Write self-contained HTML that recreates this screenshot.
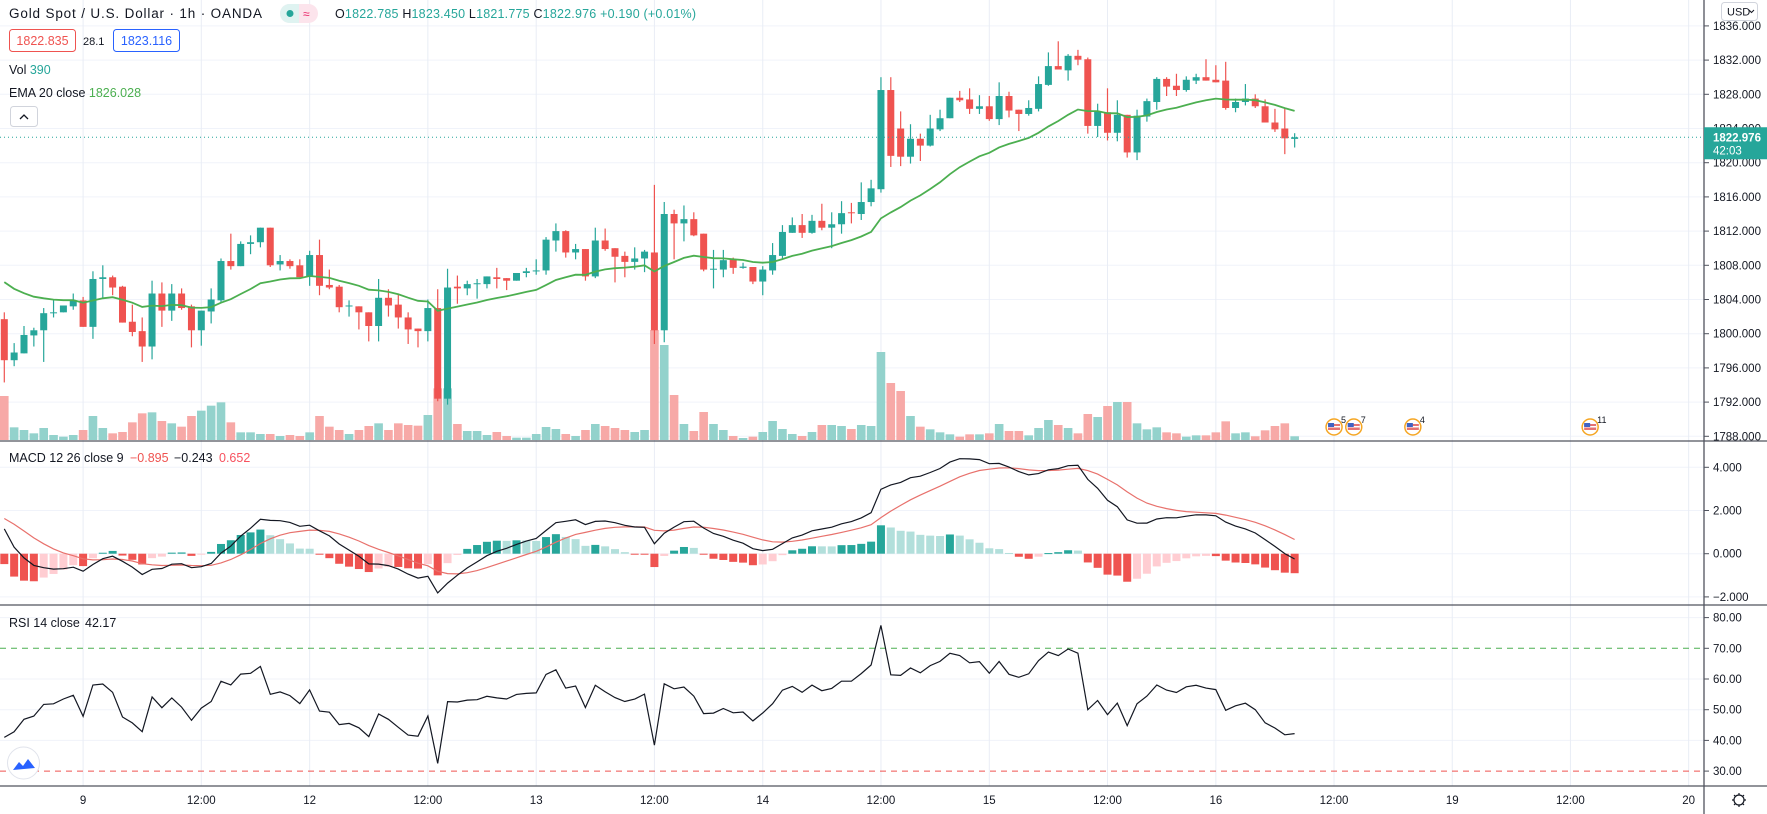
<!DOCTYPE html>
<html><head><meta charset="utf-8"><style>
html,body{margin:0;padding:0;background:#fff;}
svg{display:block;font-family:"Liberation Sans",sans-serif;}
</style></head><body>
<svg id="chart" width="1767" height="814" viewBox="0 0 1767 814" xmlns="http://www.w3.org/2000/svg">
<defs>
<clipPath id="mainClip"><rect x="0" y="0" width="1704" height="441"/></clipPath>
<clipPath id="macdClip"><rect x="0" y="442" width="1704" height="163"/></clipPath>
<clipPath id="rsiClip"><rect x="0" y="606" width="1704" height="180"/></clipPath>
</defs>
<rect x="0" y="0" width="1767" height="814" fill="#fff"/>
<g id="grid"></g>
<g id="vols" clip-path="url(#mainClip)"></g>
<g id="candles" clip-path="url(#mainClip)"></g>
<g id="emaG" clip-path="url(#mainClip)"></g>
<g id="macdG" clip-path="url(#macdClip)"></g>
<g id="rsiG" clip-path="url(#rsiClip)"></g>
<g id="axes"></g>

<!-- header -->
<g font-size="13.5" fill="#131722">
<text x="9" y="18" textLength="253">Gold Spot / U.S. Dollar · 1h · OANDA</text>
<g>
<rect x="280" y="4" width="38" height="19" rx="9.5" fill="#fce4ec"/>
<path d="M289.5 4 h9.5 v19 h-9.5 a9.5 9.5 0 0 1 0 -19 z" fill="#dff3f1"/>
<circle cx="290" cy="13.5" r="3.5" fill="#26a69a"/>
<text x="303" y="18" font-size="12" fill="#e91e63">≈</text>
</g>
<text x="335" y="18" font-size="12.5" textLength="361" fill="#131722">O<tspan fill="#26a69a">1822.785</tspan> H<tspan fill="#26a69a">1823.450</tspan> L<tspan fill="#26a69a">1821.775</tspan> C<tspan fill="#26a69a">1822.976 +0.190 (+0.01%)</tspan></text>
<g>
<rect x="9.5" y="29.5" width="66" height="22" rx="3" fill="#fff" stroke="#ef5350"/>
<text x="42.5" y="45" font-size="12.5" fill="#ef5350" text-anchor="middle">1822.835</text>
</g>
<text x="83" y="45" font-size="11" fill="#131722">28.1</text>
<g>
<rect x="113.5" y="29.5" width="66" height="22" rx="3" fill="#fff" stroke="#2962ff"/>
<text x="146.5" y="45" font-size="12.5" fill="#2962ff" text-anchor="middle">1823.116</text>
</g>
<text x="9" y="74" font-size="12.5">Vol <tspan fill="#26a69a">390</tspan></text>
<text x="9" y="97" font-size="12.5">EMA 20 close <tspan fill="#4caf50">1826.028</tspan></text>
<g>
<rect x="10.5" y="106.5" width="27" height="20" rx="3" fill="#fff" stroke="#d1d4dc"/>
<path d="M20 119 l4 -4 l4 4" fill="none" stroke="#131722" stroke-width="1.3"/>
</g>
</g>
<g>
<rect x="1721.5" y="2.5" width="36" height="18" rx="3" fill="#fff" stroke="#d1d4dc"/>
<text x="1727" y="15.5" font-size="11" fill="#131722">USD</text>
<path d="M1749 10 l2.5 2.5 l2.5 -2.5" fill="none" stroke="#131722"/>
</g>
<text x="9" y="462" font-size="12.5" fill="#131722">MACD 12 26 close 9 <tspan x="130" fill="#ef5350">−0.895</tspan><tspan x="174" fill="#131722">−0.243</tspan><tspan x="219" fill="#f7525f">0.652</tspan></text>
<text x="9" y="627" font-size="12.5" fill="#131722">RSI 14 close <tspan x="85">42.17</tspan></text>
<g>
<circle cx="23.5" cy="763" r="16" fill="#fff" stroke="#e0e3eb"/>
<path d="M13 770 l6 -8 l4 4 l5 -7 l7 9 z" fill="#2962ff"/>
</g>
<g fill="none" stroke="#131722" stroke-width="1.2">
<circle cx="1739" cy="800" r="5"/>
<path d="M1739 793 v2 M1739 805 v2 M1732 800 h2 M1744 800 h2 M1734 795 l1.5 1.5 M1742.5 803.5 l1.5 1.5 M1744 795 l-1.5 1.5 M1735.5 803.5 l-1.5 1.5"/>
</g>
<g id="events"></g>

<script>
const opens=[1801.7,1796.9,1797.7,1799.8,1800.4,1802.4,1802.5,1803.2,1803.9,1800.8,
1806.4,1806.6,1805.5,1801.4,1800.3,1798.5,1804.7,1802.7,1804.7,1803.2,
1800.4,1802.6,1803.9,1808.5,1807.9,1810.5,1810.7,1812.4,1808.1,1808.5,
1808.0,1806.7,1809.2,1805.7,1805.5,1803.2,1803.2,1802.5,1800.9,1804.2,
1803.4,1801.9,1800.6,1800.3,1803.0,1792.4,1805.5,1805.3,1805.8,1805.8,
1806.6,1806.5,1806.2,1807.1,1807.3,1807.4,1810.9,1812.0,1809.5,1809.9,
1806.7,1810.9,1810.0,1809.1,1808.4,1808.8,1809.5,1800.4,1814.0,1812.9,
1813.4,1811.7,1807.5,1807.5,1808.7,1807.7,1807.8,1806.1,1807.4,1809.1,
1811.8,1812.7,1811.8,1813.2,1812.4,1812.8,1814.2,1814.0,1815.4,1816.9,
1828.5,1824.0,1820.7,1822.8,1822.0,1823.9,1825.2,1827.6,1827.4,1826.3,
1826.6,1825.1,1827.8,1826.2,1825.7,1826.3,1829.1,1831.3,1830.8,1832.5,
1832.1,1824.3,1825.9,1823.5,1825.6,1821.2,1825.4,1827.1,1829.8,1829.0,
1828.5,1829.6,1830.0,1829.7,1829.6,1826.4,1827.1,1827.5,1826.6,1824.7,
1824.0,1822.785];
const highs=[1802.5,1798.9,1800.9,1800.7,1803.0,1803.9,1803.3,1804.7,1804.3,1807.3,
1808.0,1806.8,1805.6,1803.4,1801.9,1806.2,1806.0,1805.8,1805.3,1803.4,
1802.7,1805.3,1808.8,1811.7,1810.8,1811.5,1812.4,1812.4,1809.2,1808.7,
1808.7,1809.7,1811.0,1807.5,1805.7,1803.9,1803.2,1802.5,1806.4,1805.2,
1804.6,1802.5,1800.6,1804.0,1805.2,1807.6,1806.8,1806.2,1806.4,1806.7,
1807.7,1806.5,1807.1,1807.7,1808.7,1811.3,1812.9,1812.1,1810.5,1809.9,
1812.4,1812.3,1810.0,1809.6,1810.1,1809.8,1817.4,1815.4,1814.5,1815.0,
1814.2,1811.7,1809.8,1809.8,1808.9,1808.3,1807.8,1807.9,1810.6,1812.7,
1813.6,1814.0,1813.9,1815.2,1814.2,1815.5,1815.3,1817.7,1818.0,1830.0,
1830.0,1826.0,1824.5,1823.4,1825.6,1826.2,1827.6,1828.4,1828.7,1827.9,
1827.8,1829.4,1828.3,1826.2,1827.3,1830.1,1832.9,1834.2,1832.7,1833.2,
1832.3,1826.9,1828.7,1827.3,1825.6,1826.2,1827.5,1830.0,1830.0,1830.4,
1830.1,1830.4,1832.1,1831.4,1831.8,1827.5,1829.2,1828.0,1827.4,1826.3,
1826.4,1823.45];
const lows=[1794.3,1796.2,1797.7,1798.5,1796.7,1801.9,1802.5,1802.8,1800.8,1799.4,
1804.1,1804.5,1801.3,1799.7,1796.7,1797.0,1800.8,1801.5,1802.8,1798.4,
1798.6,1801.2,1803.6,1807.5,1807.9,1809.3,1810.1,1807.8,1807.4,1807.6,
1806.6,1805.6,1804.5,1805.2,1802.5,1802.0,1800.5,1799.1,1799.1,1802.0,
1800.6,1798.8,1798.4,1799.1,1792.1,1791.7,1803.5,1804.5,1804.1,1805.3,
1805.3,1805.1,1806.2,1806.6,1806.9,1806.9,1809.6,1808.9,1808.7,1806.2,
1806.5,1809.7,1806.0,1806.6,1807.5,1807.2,1798.8,1799.0,1808.7,1810.8,
1811.4,1807.3,1805.3,1806.6,1807.0,1807.6,1805.8,1804.5,1806.9,1808.8,
1811.8,1811.2,1811.7,1812.1,1810.0,1811.7,1812.9,1813.3,1814.9,1816.5,
1819.5,1819.6,1819.9,1820.2,1821.9,1823.7,1825.2,1827.1,1825.7,1825.7,
1824.9,1824.4,1825.3,1823.7,1825.5,1826.0,1829.0,1830.9,1829.6,1831.4,
1823.4,1823.0,1822.6,1822.5,1820.6,1820.3,1824.8,1826.2,1827.8,1827.8,
1828.3,1829.2,1829.6,1829.4,1826.2,1825.9,1826.7,1826.4,1824.7,1823.6,
1821.0,1821.775];
const closes=[1796.9,1797.8,1799.85,1800.4,1802.4,1802.5,1803.3,1803.9,1800.8,1806.4,
1806.6,1805.4,1801.3,1800.2,1798.5,1804.7,1802.7,1804.7,1803.0,1800.4,
1802.7,1804.0,1808.5,1807.9,1810.5,1810.7,1812.4,1808.0,1808.5,1807.9,
1806.6,1809.2,1805.6,1805.4,1803.1,1803.3,1802.5,1800.9,1804.2,1803.3,
1801.9,1800.5,1800.3,1803.0,1792.4,1805.4,1805.3,1805.8,1805.9,1806.7,
1806.4,1806.2,1807.1,1807.3,1807.4,1811.0,1812.0,1809.5,1809.9,1806.7,
1810.9,1809.9,1809.0,1808.4,1808.8,1809.6,1800.4,1814.0,1812.9,1813.4,
1811.5,1807.5,1807.6,1808.6,1807.7,1807.85,1806.1,1807.5,1809.2,1811.9,
1812.7,1811.8,1813.2,1812.4,1812.8,1814.1,1814.1,1815.4,1817.0,1828.5,
1820.8,1820.7,1822.8,1822.0,1824.0,1825.2,1827.6,1827.3,1826.3,1826.6,
1825.1,1827.8,1826.1,1825.7,1826.4,1829.2,1831.3,1830.9,1832.5,1832.05,
1824.3,1826.0,1823.5,1825.6,1821.2,1825.5,1827.2,1829.8,1828.9,1828.5,
1829.7,1830.0,1829.6,1829.4,1826.4,1827.1,1827.5,1826.6,1824.7,1823.9,
1822.85,1822.976];
const volumes=[4620,1330,1050,700,1260,525,350,525,1050,2520,
1260,700,840,1855,2800,2905,1995,1750,1400,2520,
3080,3605,3955,1855,805,805,630,630,420,525,
420,805,2520,1400,1050,630,1050,1470,1750,1050,
1750,1575,1505,2625,5425,5425,1680,945,945,525,
840,420,245,245,630,1365,1155,630,420,1050,
1680,1470,1260,1050,840,1050,11550,9975,4725,1680,
945,2940,1680,1050,420,210,350,840,1995,1155,
630,420,840,1575,1575,1470,1155,1575,1470,9240,
5985,5145,2520,1400,1120,805,595,350,595,595,
700,1680,945,945,490,1260,2100,1575,1260,700,
2730,2415,3570,3990,3990,1750,1120,1330,805,700,
350,490,490,805,1960,700,805,390,1015,1470,
1750,390];
// indicator warm-up state (values just before the first visible bar)
const emaSeed=1807.0;
const ema12Seed=1809.2;
const ema26Seed=1806.9;
const signalSeed=1.75;
const rsiGainSeed=0.95;
const rsiLossSeed=1.0;
// axis ticks
const priceTicks=[1836,1832,1828,1824,1820,1816,1812,1808,1804,1800,1796,1792,1788];
const macdTicks=[4,2,0,-2];
const macdTickLabels=["4.000","2.000","0.000","−2.000"];
const rsiTicks=[80,70,60,50,40,30];
const timeTickIdx=[8,20,31,43,54,66,77,89,100,112,123,135,147,159,171];
const timeTickLabels=["9","12:00","12","12:00","13","12:00","14","12:00","15","12:00","16","12:00","19","12:00","20"];
const eventIdx=[135,137,143,161];
const eventLabels=["5","7","4","11"];

const NS="http://www.w3.org/2000/svg";
function mk(tag,attrs,parent){const e=document.createElementNS(NS,tag);for(const k in attrs)e.setAttribute(k,attrs[k]);parent.appendChild(e);return e;}
const X=i=>4.3+9.85*i;
const PY=p=>162.7+(1820-p)*8.55;
const VY=v=>440-v/105;
const MY=v=>553.7-v*21.6;
const RY=r=>648.3-(r-70)*3.07;
const UP="#26a69a",DN="#ef5350";
const grid=document.getElementById('grid');
const axes=document.getElementById('axes');

// grid
priceTicks.forEach(p=>{const l=mk('line',{x1:0,x2:1704,y1:PY(p),y2:PY(p),stroke:"#f0f3fa"},grid);

});
macdTicks.forEach(v=>{const l=mk('line',{x1:0,x2:1704,y1:MY(v),y2:MY(v),stroke:"#f0f3fa"},grid);

});
rsiTicks.forEach(r=>{if(r===70||r===30)return;const l=mk('line',{x1:0,x2:1704,y1:RY(r),y2:RY(r),stroke:"#f0f3fa"},grid);

});
timeTickIdx.forEach(i=>{const l=mk('line',{x1:X(i),x2:X(i),y1:0,y2:786,stroke:"#e9edf5"},grid);

});

// volume
const vg=document.getElementById('vols');
volumes.forEach((v,i)=>{const up=closes[i]>=opens[i];
const r=mk('rect',{x:X(i)-4.3,y:VY(v),width:8.6,height:440-VY(v),fill:up?"#93d2cc":"#f7a9a7"},vg);

});

// candles
const cg=document.getElementById('candles');
closes.forEach((c,i)=>{const o=opens[i],up=c>=o,col=up?UP:DN;
const g=mk('g',{},cg);


mk('line',{x1:X(i),x2:X(i),y1:PY(highs[i]),y2:PY(lows[i]),stroke:col,'stroke-width':1.2},g);
const t=PY(Math.max(o,c)),b=PY(Math.min(o,c));
mk('rect',{x:X(i)-3.5,y:t,width:7,height:Math.max(1,b-t),fill:col},g);});

// EMA 20
let ema=emaSeed;const emaPts=[];
closes.forEach((c,i)=>{ema=ema+(2/21)*(c-ema);emaPts.push(X(i).toFixed(1)+","+PY(ema).toFixed(1));});
const emaLine=mk('polyline',{points:emaPts.join(" "),fill:"none",stroke:"#4caf50","stroke-width":1.8},document.getElementById('emaG'));



// last price line
const lastY=PY(closes[closes.length-1]);
const pl=mk('line',{x1:0,x2:1704,y1:lastY,y2:lastY,stroke:"#26a69a","stroke-dasharray":"1 3"},axes);



// MACD
const mg=document.getElementById('macdG');
let e12=ema12Seed,e26=ema26Seed,sig=signalSeed,prevH=null;const mPts=[],sPts=[];
closes.forEach((c,i)=>{e12+= (2/13)*(c-e12);e26+=(2/27)*(c-e26);const m=e12-e26;sig+=(2/10)*(m-sig);const h=m-sig;
let col;if(h>=0)col=(prevH===null||h>prevH)?"#26a69a":"#b2dfdb";else col=(prevH!==null&&h>prevH)?"#ffcdd2":"#ef5350";
const y0=MY(0),y1=MY(h);
const r=mk('rect',{x:X(i)-4,y:Math.min(y0,y1),width:8,height:Math.max(1,Math.abs(y1-y0)),fill:col},mg);


prevH=h;mPts.push(X(i).toFixed(1)+","+MY(m).toFixed(1));sPts.push(X(i).toFixed(1)+","+MY(sig).toFixed(1));});
const sl=mk('polyline',{points:sPts.join(" "),fill:"none",stroke:"#e8716c","stroke-width":1.2},mg);


const ml=mk('polyline',{points:mPts.join(" "),fill:"none",stroke:"#131722","stroke-width":1.2},mg);



// RSI
const rg=document.getElementById('rsiG');
const d70=mk('line',{x1:0,x2:1704,y1:RY(70),y2:RY(70),stroke:"#4caf50","stroke-dasharray":"6 5"},rg);


const d30=mk('line',{x1:0,x2:1704,y1:RY(30),y2:RY(30),stroke:"#ef5350","stroke-dasharray":"6 5"},rg);


let ag=rsiGainSeed,al=rsiLossSeed,prevC=opens[0];const rPts=[];
closes.forEach((c,i)=>{const ch=c-prevC;ag=(ag*13+Math.max(ch,0))/14;al=(al*13+Math.max(-ch,0))/14;prevC=c;
const r=al===0?100:100-100/(1+ag/al);rPts.push(X(i).toFixed(1)+","+RY(r).toFixed(1));});
const rl=mk('polyline',{points:rPts.join(" "),fill:"none",stroke:"#131722","stroke-width":1.2},rg);



// separators & axes
[[0,441,1767,441],[0,605,1767,605],[0,786,1767,786],[1704,0,1704,814]].forEach(s=>{
const l=mk('line',{x1:s[0],y1:s[1],x2:s[2],y2:s[3],stroke:"#50535e","stroke-width":1.3},axes);

});
function yLabel(y,txt,name){mk('line',{x1:1704,x2:1709,y1:y,y2:y,stroke:"#50535e"},axes);
const t=mk('text',{x:1713,y:y+4,'font-size':11.5,fill:"#131722"},axes);t.textContent=txt;

}
priceTicks.forEach(p=>yLabel(PY(p),p.toFixed(3),'price-axis-label'));
macdTicks.forEach((v,k)=>yLabel(MY(v),macdTickLabels[k],'macd-axis-label'));
rsiTicks.forEach(r=>yLabel(RY(r),r.toFixed(2),'rsi-axis-label'));
timeTickIdx.forEach((i,k)=>{const t=mk('text',{x:X(i),y:804,'font-size':11.5,fill:"#131722","text-anchor":"middle"},axes);
t.textContent=timeTickLabels[k];

});
// current price tag
const tag=mk('g',{},axes);


mk('rect',{x:1704,y:lastY-10,width:63,height:32,fill:"#26a69a"},tag);
const t1=mk('text',{x:1713,y:lastY+4,'font-size':11.5,'font-weight':'bold',fill:"#fff"},tag);t1.textContent=closes[closes.length-1].toFixed(3);
const t2=mk('text',{x:1713,y:lastY+17,'font-size':11.5,fill:"#fff"},tag);t2.textContent="42:03";

// events
const eg=document.getElementById('events');
eventIdx.forEach((i,k)=>{const g=mk('g',{},eg);


const cx=X(i),cy=427;
mk('circle',{cx:cx,cy:cy,r:8,fill:"#fff",stroke:"#f5a623","stroke-width":1.5},g);
mk('rect',{x:cx-6,y:cy-3,width:12,height:6,fill:"#e57373"},g);
mk('rect',{x:cx-6,y:cy-1,width:12,height:1.5,fill:"#fff"},g);
mk('rect',{x:cx-6,y:cy-4,width:6,height:4,fill:"#3f63c4"},g);
const t=mk('text',{x:cx+7,y:cy-4,'font-size':9,fill:"#131722"},g);t.textContent=eventLabels[k];});
</script>
</svg>
</body></html>
